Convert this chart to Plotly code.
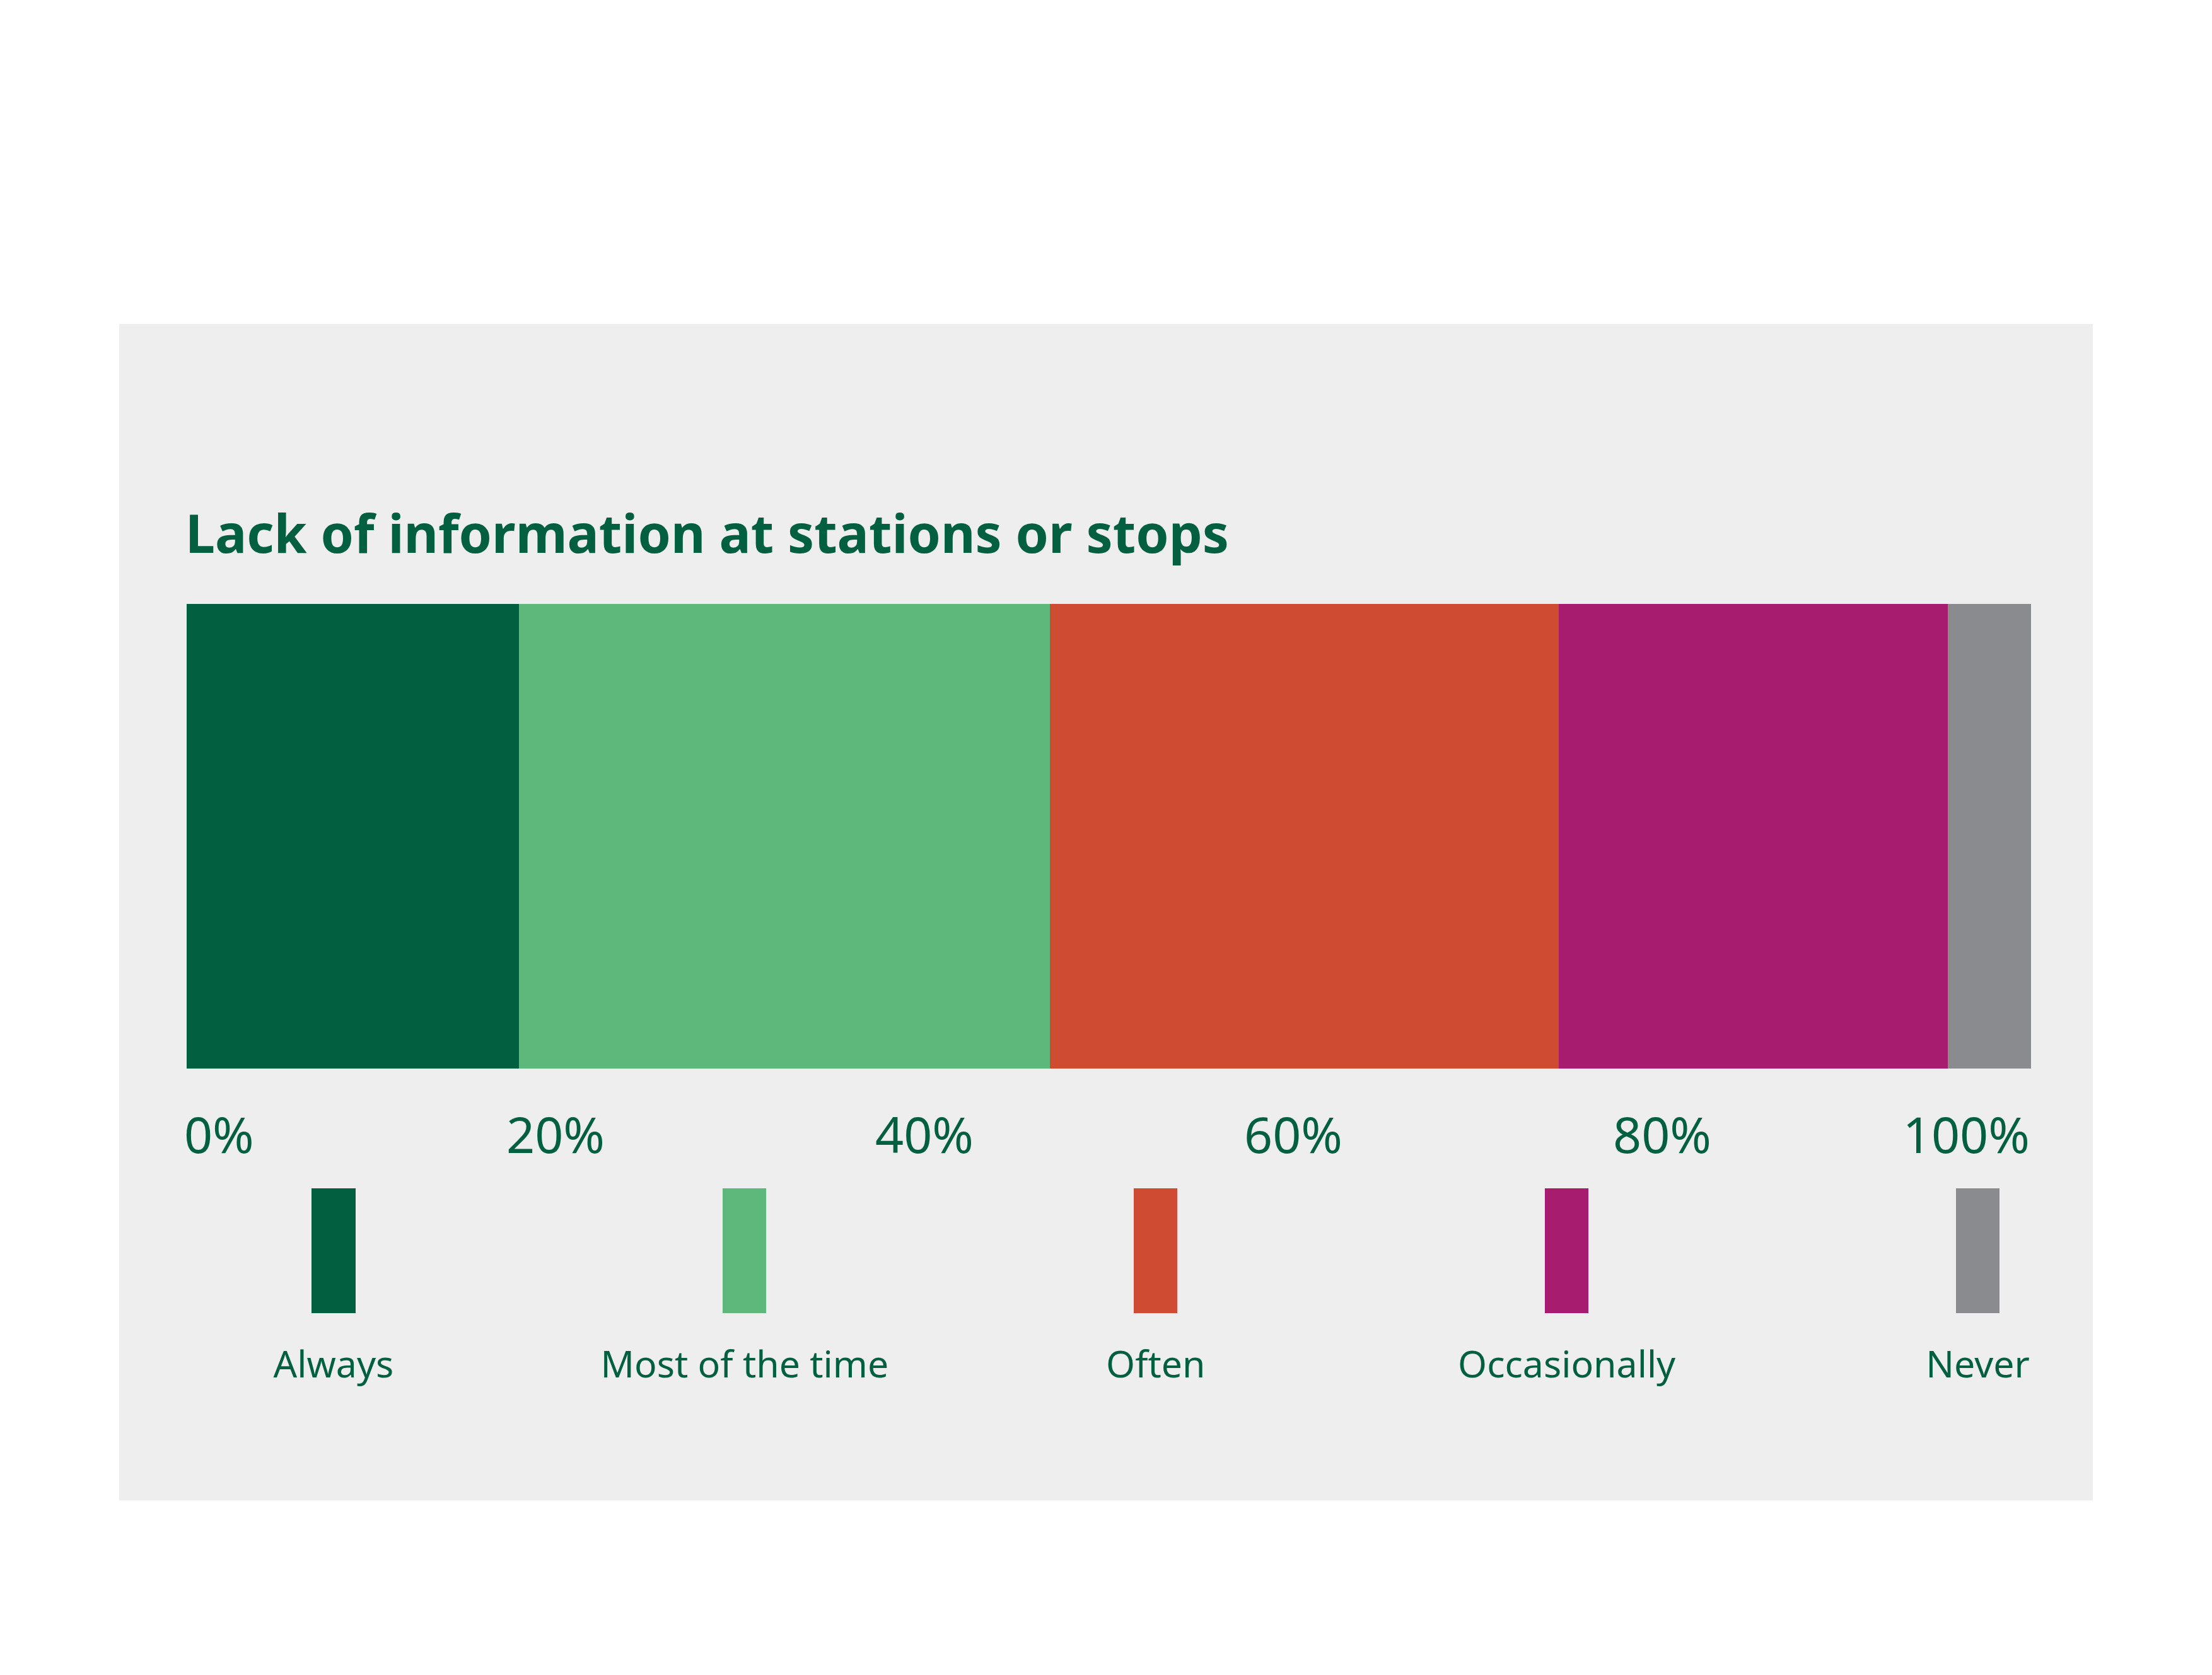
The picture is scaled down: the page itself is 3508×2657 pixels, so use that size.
import plotly.graph_objects as go

# survey answers for one question, shares in percent
categories = ["Always", "Most of the time", "Often", "Occasionally", "Never"]
shares = [18.0, 28.8, 27.6, 21.1, 4.5]
colors = ["#025f3f", "#5fb87b", "#cf4b32", "#a71c6f", "#8a8b8f"]

tick_values = [0, 20, 40, 60, 80, 100]
tick_labels = ["0%", "20%", "40%", "60%", "80%", "100%"]

title_text = "Lack of information at stations or stops"
text_green = "#025f3f"
panel_grey = "#eeeeee"

W, H = 3508, 2657
NB = "\u00a0"

fig = go.Figure()

# stacked 100% bar
for cat, val, col in zip(categories, shares, colors):
    fig.add_trace(go.Bar(
        x=[val], y=[0], orientation="h", name=cat,
        marker=dict(color=col, line=dict(width=0)),
        width=1, xaxis="x", yaxis="y", showlegend=False,
        hoverinfo="name+x",
    ))

# legend swatches drawn as little bars on their own axis
fig.add_trace(go.Bar(
    x=list(range(len(categories))), y=[1] * len(categories),
    marker=dict(color=colors, line=dict(width=0)),
    width=0.106, xaxis="x2", yaxis="y2", showlegend=False,
    hovertext=categories, hoverinfo="text",
))

# pad the end labels so 0% sits left-aligned and 100% right-aligned
end_labels = list(tick_labels)
end_labels[0] = NB * 5 + tick_labels[0]
end_labels[-1] = tick_labels[-1] + NB * 10

fig.update_layout(
    width=W, height=H,
    margin=dict(l=0, r=0, t=0, b=0, autoexpand=False),
    paper_bgcolor="white",
    plot_bgcolor="rgba(0,0,0,0)",
    barmode="stack",
    bargap=0,
    font=dict(family="Noto Sans", color=text_green),
    xaxis=dict(
        domain=[296 / W, 3221 / W], range=[0, 100],
        tickvals=tick_values, ticktext=end_labels,
        tickfont=dict(size=79, color=text_green),
        showgrid=False, zeroline=False, showline=False, ticks="",
        ticklabelstandoff=54, anchor="y", fixedrange=True, automargin=False,
    ),
    yaxis=dict(
        domain=[1 - 1695 / H, 1 - 958 / H], range=[-0.5, 0.5],
        showticklabels=False, showgrid=False, zeroline=False,
        anchor="x", fixedrange=True, automargin=False,
    ),
    xaxis2=dict(
        domain=[203 / W, 3462.5 / W], range=[-0.5, 4.5],
        tickvals=list(range(len(categories))), ticktext=categories,
        tickfont=dict(size=59, color=text_green),
        showgrid=False, zeroline=False, showline=False, ticks="",
        ticklabelstandoff=42, anchor="y2", fixedrange=True, automargin=False,
    ),
    yaxis2=dict(
        domain=[1 - 2083 / H, 1 - 1885 / H], range=[0, 1],
        showticklabels=False, showgrid=False, zeroline=False,
        anchor="x2", fixedrange=True, automargin=False,
    ),
    shapes=[dict(
        type="rect", xref="paper", yref="paper", layer="below",
        x0=189 / W, x1=3319 / W, y0=1 - 2380 / H, y1=1 - 514 / H,
        fillcolor=panel_grey, line=dict(width=0),
    )],
    annotations=[dict(
        text="<b>" + title_text + "</b>",
        xref="paper", yref="paper", x=292 / W, y=1 - 845 / H,
        xanchor="left", yanchor="middle", showarrow=False,
        font=dict(size=84, color=text_green, family="Noto Sans"),
    )],
)

# drop the default page margin so the figure sits at the window corner
fig.write_html("out.html", config={"displayModeBar": False},
               post_script="document.body.style.margin='0';")
